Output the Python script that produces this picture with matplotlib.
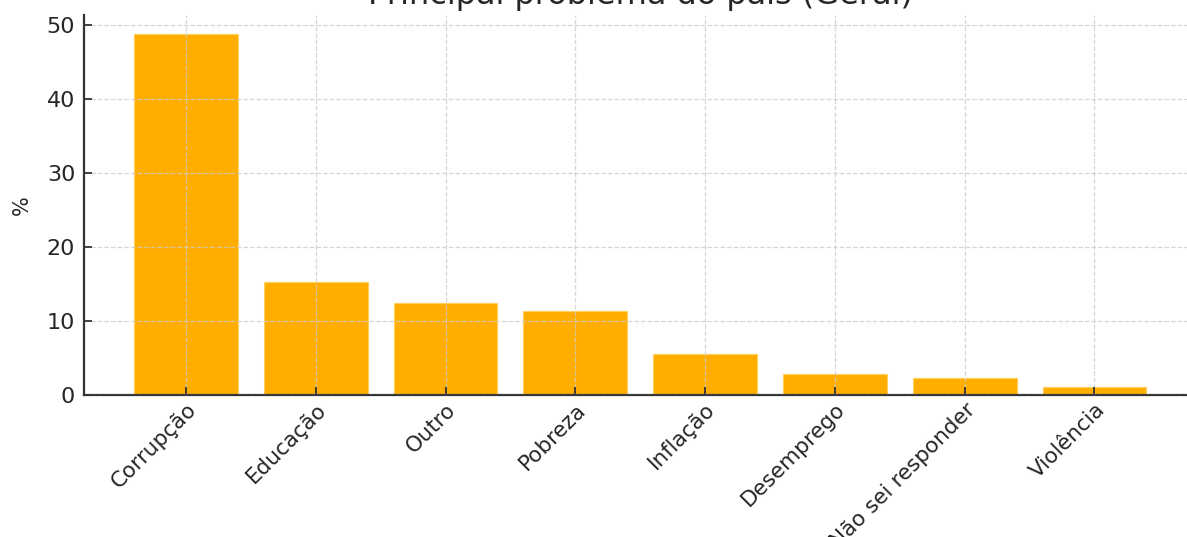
import matplotlib
matplotlib.use("Agg")
import matplotlib.pyplot as plt

categories = ["Corrupção", "Educação", "Outro", "Pobreza", "Inflação",
              "Desemprego", "Não sei responder", "Violência"]
values = [48.8, 15.3, 12.4, 11.3, 5.6, 2.8, 2.3, 1.1]
title = "Principal problema do país (Geral)"

W, H = 1187, 537
fig = plt.figure(figsize=(W / 100, H / 100), dpi=100)
left, right, bottom, top = 83.5, 1197, 142, 522
ax = fig.add_axes([left / W, bottom / H, (right - left) / W, (top - bottom) / H])

txt = "#262626"
ax.bar(range(len(categories)), values, width=0.8, color="#FFAE00",
       edgecolor="#FFD060", linewidth=0.8, zorder=2)
ax.set_axisbelow(False)
ax.grid(True, linestyle="--", color="#cccccc", linewidth=0.9, alpha=0.8, zorder=3)
ax.set_ylim(0, 51.3)
ax.set_yticks([0, 10, 20, 30, 40, 50])
ax.set_xticks(range(len(categories)))
ax.set_xticklabels(categories, rotation=45, ha="right", rotation_mode="anchor",
                   fontsize=15.5, color=txt)
ax.tick_params(axis="y", labelsize=16, labelcolor=txt, pad=6)
ax.tick_params(axis="x", pad=3)
ax.tick_params(direction="in", length=6, width=1.3, color="#333333")
ax.set_ylabel("%", fontsize=15, color=txt, labelpad=11)
ax.set_title(title, fontsize=23, color=txt, pad=8)
for s in ["top", "right"]:
    ax.spines[s].set_visible(False)
for s in ["left", "bottom"]:
    ax.spines[s].set_linewidth(1.6)
    ax.spines[s].set_color("#333333")

fig.savefig("out.png", dpi=100)
